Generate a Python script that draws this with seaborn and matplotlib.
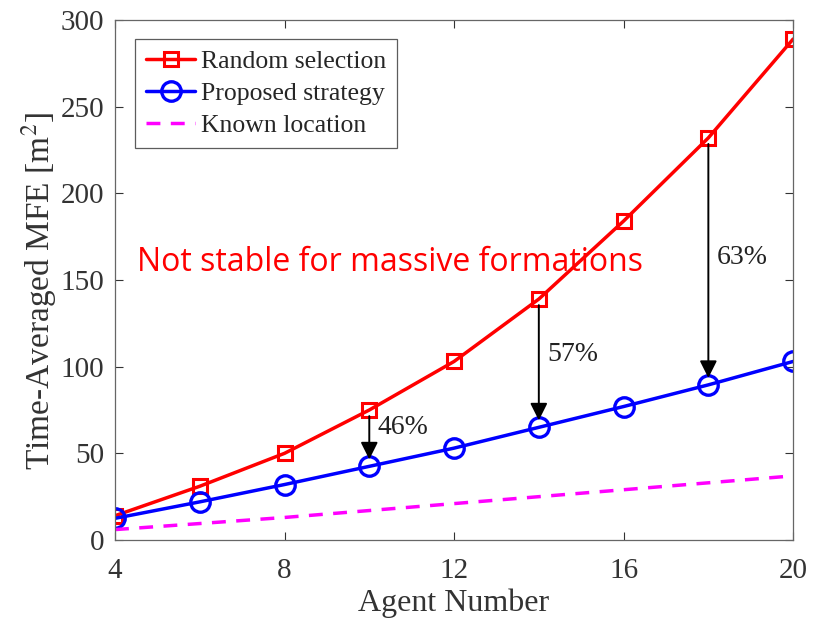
import matplotlib
matplotlib.use("Agg")
import matplotlib.pyplot as plt
import seaborn as sns
import numpy as np
import pandas as pd

agents = [4, 6, 8, 10, 12, 14, 16, 18, 20]
random_sel = [14, 31, 50, 75, 103, 139, 184, 232, 289]
proposed = [12.5, 22, 32, 42.5, 53, 65, 77, 89.5, 103]
known = [6, 9.5, 13, 17, 21, 25, 29, 33, 37]
arrow_agents = [10, 14, 18]
arrow_labels = ["46%", "57%", "63%"]

sns.set_theme(style="ticks")
plt.rcParams["font.family"] = ["Liberation Serif", "DejaVu Serif"]
plt.rcParams["mathtext.fontset"] = "stix"

fig = plt.figure(figsize=(8.19, 6.25), dpi=100)
ax = fig.add_axes([0.1404, 0.136, 0.828, 0.832])

df = pd.DataFrame({"x": agents, "r": random_sel, "p": proposed, "k": known})
sns.lineplot(data=df, x="x", y="r", ax=ax, color="#ff0000", lw=2.5,
             marker="s", markersize=10.5, markerfacecolor="none",
             markeredgecolor="#ff0000", markeredgewidth=2.2,
             label="Random selection")
sns.lineplot(data=df, x="x", y="p", ax=ax, color="#0000ff", lw=2.5,
             marker="o", markersize=14, markerfacecolor="none",
             markeredgecolor="#0000ff", markeredgewidth=2.4,
             label="Proposed strategy")
sns.lineplot(data=df, x="x", y="k", ax=ax, color="#ff00ff", lw=2.5,
             linestyle=(0, (4, 3)), label="Known location")

offsets = {10: 6, 14: 5, 18: 2}
for a, lab in zip(arrow_agents, arrow_labels):
    i = agents.index(a)
    y0, y1 = random_sel[i], proposed[i]
    ax.annotate("", xy=(a, y1 + 4), xytext=(a, y0 - 3.5),
                arrowprops=dict(arrowstyle="-|>", color="black", lw=1.4,
                                mutation_scale=26, shrinkA=0, shrinkB=0))
    ax.text(a + 0.2, (y0 + y1) / 2 + offsets[a], lab,
            fontsize=20, va="center", ha="left", color="#222222")

ax.text(4.52, 160, "Not stable for massive formations", color="#ff0000",
        fontsize=23, family=["Open Sans", "DejaVu Sans"], va="center", ha="left")

ax.set_xlim(4, 20)
ax.set_ylim(0, 300)
ax.set_xticks([4, 8, 12, 16, 20])
ax.set_yticks([0, 50, 100, 150, 200, 250, 300])
ax.set_xlabel("Agent Number", fontsize=23, color="#333333", labelpad=3)
ax.set_ylabel("Time-Averaged MFE [m$^2$]", fontsize=24, color="#333333")
ax.yaxis.set_label_coords(-0.083, 0.479)
ax.tick_params(direction="in", length=6, width=0.8, labelsize=21,
               colors="#333333", top=True, right=True)
ax.tick_params(axis="x", pad=13)
ax.tick_params(axis="y", pad=8)
for s in ax.spines.values():
    s.set_visible(True)
    s.set_color("#666666")
    s.set_linewidth(0.9)

leg = ax.legend(loc="upper left", bbox_to_anchor=(0.03, 0.963), fontsize=18.5,
                frameon=True, fancybox=False, edgecolor="#333333",
                handlelength=1.9, borderpad=0.42, labelspacing=0.35,
                handletextpad=0.25, borderaxespad=0)
leg.get_frame().set_linewidth(0.9)

fig.savefig("out.png", dpi=100)
